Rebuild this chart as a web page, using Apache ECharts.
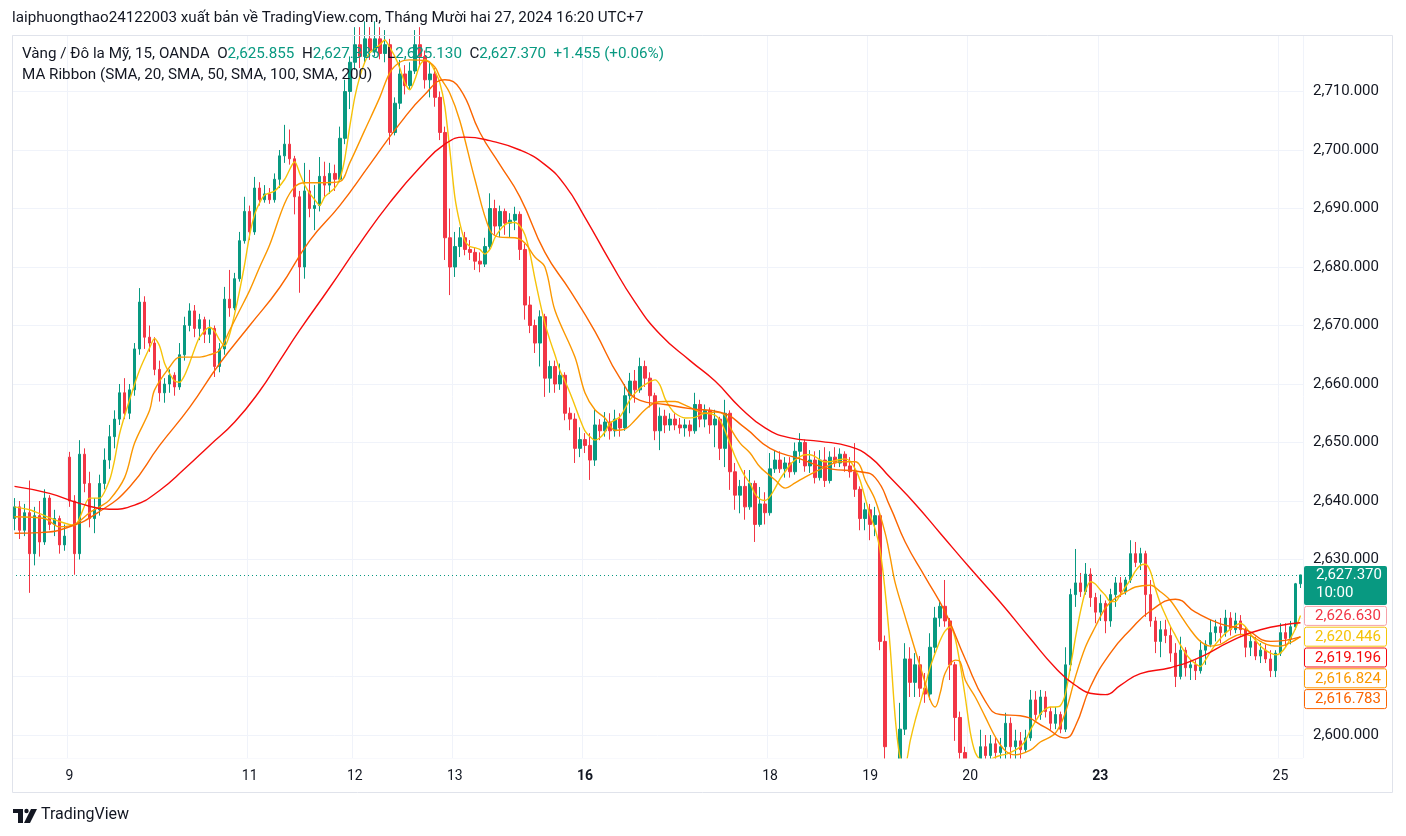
<!DOCTYPE html>
<html><head><meta charset="utf-8">
<script src="https://cdn.jsdelivr.net/npm/echarts@6.0.0/dist/echarts.min.js"></script>
<style>html,body{margin:0;padding:0;background:#fff}#c{width:1406px;height:836px}</style>
</head><body><div id="c"></div>
<script>
// ---- tick labels (day labels on time axis, their candle index) ----
const dayLabels = ['9','11','12','13','16','18','19','20','23','25'];
const dayLabelIdx = [11,47,68,88,114,151,171,191,217,253];
const boldDays = ['16','23'];

// ---- candles (aggregated bars) ----
const openP = [
2637,2639,2635,2638,2631,2637.5,2633,2640.5,2636,2637,
2632.5,2647.5,2640,2631,2648,2643,2637,2638.5,2643,2647,
2651,2654,2658.5,2655,2659,2666,2674,2668,2667,2662.5,
2658.5,2660,2661.5,2659.5,2665,2670,2672.5,2669.5,2671,2668.5,
2669.5,2663,2666,2674.5,2673,2678,2684.5,2689.5,2686,2693.5,
2691.5,2692.5,2691.5,2695,2699,2701,2698.5,2692,2680,2693,
2690,2690.5,2695.5,2694,2696,2695,2702,2710,2715,2718,
2716,2719,2717,2719,2716.5,2718,2703,2708,2713,2711,
2713.5,2718,2716,2712,2713,2709,2703,2685,2680,2683.5,
2685,2683,2682.5,2681,2680.5,2683.5,2690,2687,2689.5,2687.5,
2688,2689,2683,2673.5,2670,2667,2671.5,2661,2663,2660,
2661.5,2655,2654,2649,2650.5,2649.5,2647,2653,2652,2653.5,
2652,2654,2652.5,2658,2660.5,2659,2663,2661,2658,2652,
2654.5,2653,2654,2653,2652.5,2653,2652,2656.5,2654,2655.5,
2653,2654,2649,2655,2645,2641,2642.5,2639,2643,2636,
2639.5,2638,2645.5,2647,2645.5,2646.5,2645,2648.5,2650,2646,
2647,2644,2647,2643.5,2647.5,2646.5,2648,2646,2645,2642,
2637,2638.5,2636,2637.5,2616,2594,2590,2592,2601,2613,
2609,2612,2608,2607,2615,2620,2622,2619.5,2612,2603,
2597,2593,2594,2592,2598,2596.5,2598.5,2597,2598,2602,
2598,2599,2597.5,2599.5,2606,2603.5,2606.5,2604,2602,2603.5,
2601,2612,2624,2626,2624.5,2627.5,2623.5,2621,2622.5,2619.5,
2624,2626,2624.5,2626.5,2631,2629.5,2631,2624,2619.5,2616,
2618,2617,2614,2610,2614.5,2611.5,2612,2611,2614.5,2615.5,
2617.5,2618.5,2617.5,2620,2618,2619.5,2618,2615,2616,2613.5,
2614.5,2613,2611,2614,2617.5,2616.5,2618.5,2625.855];
const closeP = [
2639,2635,2638,2631,2637.5,2633,2640.5,2636,2637,2632.5,
2634,2640,2631,2648,2643,2637,2638.5,2643,2647,2651,
2654,2658.5,2655,2659,2666,2674,2668,2667,2662.5,2658.5,
2660,2661.5,2659.5,2665,2670,2672.5,2669.5,2671,2668.5,2669.5,
2663,2666,2674.5,2673,2678,2684.5,2689.5,2686,2693.5,2691.5,
2692.5,2691.5,2695,2699,2701,2698.5,2692,2680,2693,2690,
2690.5,2695.5,2694,2696,2695,2702,2710,2715,2718,2716,
2719,2717,2719,2716.5,2718,2703,2708,2713,2711,2713.5,
2718,2716,2712,2713,2709,2703,2685,2680,2683.5,2685,
2683,2682.5,2681,2680.5,2683.5,2690,2687,2689.5,2687.5,2688,
2689,2683,2673.5,2670,2667,2671.5,2661,2663,2660,2661.5,
2655,2654,2649,2650.5,2649.5,2647,2653,2652,2653.5,2652,
2654,2652.5,2658,2660.5,2659,2663,2661,2658,2652,2654.5,
2653,2654,2653,2652.5,2653,2652,2656.5,2654,2655.5,2653,
2654,2649,2655,2645,2641,2642.5,2639,2643,2636,2639.5,
2638,2645.5,2647,2645.5,2646.5,2645,2648.5,2650,2646,2647,
2644,2647,2643.5,2647.5,2646.5,2648,2646,2645,2642,2637,
2638.5,2636,2637.5,2616,2598,2590,2592,2601,2613,2609,
2612,2608,2607,2615,2620,2622,2619.5,2612,2603,2597,
2593,2594,2592,2598,2596.5,2598.5,2597,2598,2602,2598,
2599,2597.5,2599.5,2606,2603.5,2606.5,2604,2602,2603.5,2601,
2612,2624,2626,2624.5,2627.5,2623.5,2621,2622.5,2619.5,2624,
2626,2624.5,2626.5,2631,2629.5,2631,2624,2619.5,2616,2618,
2617,2614,2610,2614.5,2611.5,2612,2611,2614.5,2615.5,2617.5,
2618.5,2617.5,2620,2618,2619.5,2618,2615,2616,2613.5,2614.5,
2613,2611,2614,2617.5,2616.5,2618.5,2625.855,2627.37];
const lowP = [
2635,2633.5,2634,2624.3,2629,2630.5,2632.5,2635,2634,2631,
2631.5,2639,2627.4,2630,2641.5,2635.5,2634.5,2637.5,2642,2645.5,
2649,2653,2654,2654,2658,2665,2666,2665.5,2661.5,2657,
2656.8,2658.5,2658,2659,2664,2669,2668,2667.5,2667,2667,
2661.2,2662,2665,2671.5,2672.6,2677.5,2684,2684.6,2685.5,2690.5,
2691,2690.8,2691,2693.5,2697.8,2697.5,2689,2675.6,2678,2688.5,
2686.3,2689.5,2692,2692.5,2693,2694.5,2701,2707,2713.7,2714,
2715,2715.4,2716,2715.5,2715,2700.9,2702.5,2707,2709.5,2710.3,
2713,2714.2,2710.5,2709,2707.4,2701.7,2681.2,2675.2,2678.3,2681.7,
2682,2681.2,2679.5,2679.1,2680,2683,2685.5,2685.1,2685.5,2685.1,
2686.3,2681.2,2671,2668.7,2665.3,2663,2657.8,2658.5,2658.5,2659,
2653.8,2652.1,2646.5,2647.5,2648.2,2643.6,2646,2650.4,2651,2650.5,
2651,2651,2652,2655,2656.8,2658.5,2659.5,2656,2650.4,2648.7,
2651.6,2652,2652.1,2651.5,2651,2651,2651.5,2652.6,2652.6,2651.5,
2649.2,2647,2645.8,2641.9,2638.5,2637.9,2636.8,2638.5,2633,2635.6,
2636,2637.5,2644.8,2644.8,2644,2644,2644.5,2646.5,2645,2644.8,
2643,2643.5,2642.4,2643,2645.8,2645.8,2645,2644,2640.7,2635,
2635,2633.3,2634,2614.5,2590,2587,2588,2591,2600,2606.5,
2606.5,2606.5,2605.5,2606,2614,2618.5,2618.5,2609.4,2599,2592,
2590,2589,2588,2590,2594,2594,2594,2594,2595,2595,
2595,2595,2597,2599,2602.6,2602.6,2603,2600.9,2601,2600.3,
2600.5,2611,2621.9,2623.6,2624,2621.9,2619.1,2619.5,2617.4,2618.5,
2621.9,2623.6,2624,2626,2628.7,2628.2,2620.2,2618.5,2614,2613.3,
2615.7,2612.5,2608.2,2609.5,2610,2609.4,2609.4,2610.5,2612,2615,
2616,2615.7,2616.8,2617,2617.4,2617,2613.3,2613.5,2612.8,2612.3,
2612.3,2609.9,2609.9,2613.5,2615,2615.5,2618,2625.13];
const highP = [
2640.5,2640,2639.5,2643.5,2639,2640,2642,2641,2638.5,2637.5,
2636,2648.4,2641,2650.4,2649,2645,2640.5,2644.5,2649,2653,
2655.5,2660,2661,2660,2667,2676.4,2675,2670,2668,2664,
2661,2662.5,2662,2667,2671.5,2673.8,2673.5,2672,2671.5,2671,
2670,2667,2676.6,2679.5,2679,2686,2692,2690.5,2695.4,2694.5,
2694,2693.5,2696,2700,2704.3,2703.5,2699,2693,2697.8,2696.6,
2694,2698.8,2698,2697.8,2697.5,2704,2712,2716,2721,2721,
2722,2721,2722,2721,2720.5,2719,2709,2715.4,2714.5,2715,
2720.5,2721,2717,2715,2714,2710,2704,2690,2686,2686.8,
2686,2684.6,2683.4,2682.5,2685,2692.6,2691.5,2690.5,2690,2689.2,
2690.3,2689.5,2684,2675,2671,2672.6,2672,2664,2664,2663.5,
2662,2656,2655,2652.6,2651.6,2651.6,2655.6,2654,2655.2,2655,
2655.6,2655,2660,2661.9,2662.4,2664.5,2664,2662,2658.5,2656,
2655.6,2655,2655,2654.2,2654,2653.8,2658.5,2657.3,2656.5,2656,
2655.6,2654.4,2657.3,2655.5,2646.5,2643.6,2645.3,2645.3,2643.5,2642.4,
2641.5,2648.2,2648.7,2648.5,2647.5,2647.5,2650,2651.6,2650.5,2648.7,
2648.5,2648.7,2649.2,2648.5,2649.2,2649,2648.5,2647.5,2649.9,2642.5,
2639.7,2639.5,2639,2638,2617,2595,2595,2605.5,2615.7,2615,
2614,2613.5,2610.6,2617.4,2621.9,2623,2626.5,2620,2612.5,2604,
2598,2595.5,2595.5,2600.9,2600,2600,2599.7,2599.5,2603.8,2603,
2600.9,2600.5,2600.9,2607.7,2607.5,2607.7,2607.5,2604.8,2604.8,2604,
2615,2625,2631.8,2627.7,2629.4,2628.5,2624.3,2624,2623,2625,
2627,2627,2627,2633.3,2633,2632,2631.5,2626.5,2620.2,2619.5,
2619.7,2618.5,2615.7,2616.8,2615,2613,2612.8,2616.2,2616.2,2619.7,
2619.7,2620,2621.4,2621,2620.9,2620.5,2618.5,2617.5,2616.8,2615.7,
2615.5,2614.5,2614.5,2619.1,2619.1,2619.5,2626,2627.385];

// ---- moving averages: [candle index, value] ----
const sma20 = [[0,2639],[3,2638.5],[6,2637.5],[9,2636.5],[12,2635.8],[15,2640.5],[17,2640.5],[19,2643.6],[20,2647],[21,2651.5],[23,2657.3],[25,2662.4],[27,2666.2],[28,2667.8],[29,2666.5],[30,2663.5],[31,2661.8],[32,2660.5],[33,2660.3],[34,2661.5],[35,2663.6],[36,2666],[37,2668],[39,2669.7],[40,2669],[41,2667.5],[42,2666.5],[43,2668.5],[44,2672],[45,2676],[46,2680.5],[47,2685.5],[48,2689],[49,2691],[50,2692.3],[52,2693],[54,2695],[56,2698],[57,2696],[58,2694],[59,2692.6],[60,2691.5],[61,2690.5],[62,2692],[64,2693.5],[65,2695],[66,2698.5],[67,2704],[68,2709],[69,2712.5],[70,2715],[71,2716.6],[73,2718],[74,2718.8],[75,2717.5],[76,2716],[77,2714],[78,2711.5],[79,2710.3],[80,2712],[81,2714.5],[82,2715.4],[83,2715],[84,2713.5],[85,2711.5],[86,2707.4],[87,2700],[88,2692],[89,2687.5],[90,2684.5],[91,2683.5],[92,2683.3],[93,2683],[94,2682.2],[95,2683],[96,2685],[97,2686.3],[98,2687.2],[99,2687.6],[100,2687.6],[101,2687],[102,2685.5],[103,2682.4],[104,2678],[105,2674],[106,2670.4],[107,2667.5],[108,2665],[109,2662.3],[110,2660.5],[111,2658.5],[112,2656.3],[113,2654],[114,2652],[115,2651],[116,2650.4],[117,2650.8],[118,2651.8],[119,2653.3],[121,2654.4],[123,2657.3],[125,2659.3],[127,2660.4],[128,2660.7],[129,2659.8],[130,2657.5],[131,2656],[132,2655],[134,2654.2],[136,2654.3],[138,2655],[140,2654.7],[141,2653.8],[142,2652],[143,2649.8],[144,2647.6],[145,2645.8],[146,2644.2],[147,2643],[148,2641.2],[149,2640.3],[150,2640.1],[151,2640.8],[152,2642.2],[153,2643.8],[154,2645],[155,2646.2],[156,2647],[157,2647.6],[158,2647.9],[159,2647.9],[160,2647.6],[161,2647],[162,2646.7],[163,2646.7],[164,2646.9],[165,2647.1],[166,2647.2],[167,2646.8],[168,2645.5],[169,2643.5],[170,2640.5],[171,2637.5],[172,2635.2],[173,2631.5],[174,2624.5],[175,2615],[176,2603],[177,2596],[178,2595],[179,2599],[180,2602.5],[181,2605.5],[182,2608.5],[183,2611.6],[184,2614],[185,2616.2],[186,2617.8],[187,2618.5],[188,2616.5],[189,2612],[190,2606.5],[191,2600.5],[192,2597],[193,2595.8],[194,2595.5],[195,2595.8],[196,2596.2],[197,2596.5],[198,2596.7],[199,2597],[200,2597.4],[201,2598],[202,2599],[203,2600.8],[204,2602.3],[205,2603.6],[206,2604.4],[207,2604.8],[208,2604.8],[209,2605],[210,2607],[211,2611.5],[212,2616.5],[213,2621],[214,2624.5],[215,2626.2],[216,2625.8],[217,2624.8],[218,2623.9],[219,2622.8],[220,2622.8],[221,2624],[222,2625.3],[223,2626.5],[224,2628],[225,2629],[226,2629.2],[227,2628],[228,2625],[229,2622.5],[230,2620.5],[231,2618.6],[232,2617],[233,2615.4],[234,2614],[235,2612.9],[236,2612.2],[237,2611.7],[238,2612.8],[239,2614.2],[240,2615.5],[241,2616.5],[242,2617.4],[243,2618.1],[244,2618.7],[245,2619.1],[246,2618.5],[247,2617.3],[248,2616.2],[249,2615.2],[250,2614.5],[251,2614],[252,2613.7],[253,2614],[254,2615],[255,2616.5],[256,2618.2],[257,2620.446]];
const sma50 = [[0,2637.3],[6,2637],[9,2635.6],[12,2636],[15,2638],[17,2639],[19,2640.2],[22,2644],[24,2649.9],[27,2655.5],[28,2659],[31,2662.9],[33,2664.6],[37,2664.6],[39,2665],[41,2665.8],[43,2669.2],[45,2672.6],[47,2676],[49,2680],[51,2683.8],[54,2690.9],[56,2693.7],[58,2694.4],[61,2694.4],[65,2694.6],[67,2697.8],[70,2703.4],[73,2709],[75,2713.2],[77,2715],[79,2715.4],[82,2715.3],[84,2714.2],[85,2712.5],[87,2709.7],[89,2705],[92,2695],[95,2686.3],[97,2685.1],[100,2685],[102,2684.1],[104,2681.7],[106,2680],[108,2672.6],[112,2664.6],[114,2658.5],[116,2655.6],[118,2654.2],[120,2652.1],[122,2652.3],[124,2653.8],[126,2655.6],[128,2656.8],[130,2657],[132,2657],[134,2656.4],[136,2655.6],[138,2655],[140,2655.2],[142,2654.6],[143,2652.6],[145,2649.9],[147,2648.2],[149,2645.8],[152,2643.6],[154,2642.2],[156,2643.1],[158,2644.1],[160,2645],[162,2645.8],[165,2646.7],[168,2646.7],[169,2646],[170,2643.6],[172,2640.2],[174,2634.5],[175,2630.4],[176,2626],[178,2620.2],[180,2614.5],[182,2608.9],[183,2606],[184,2604.8],[185,2607.2],[186,2610.6],[188,2612.8],[189,2612.5],[190,2609.4],[192,2606.5],[194,2603.1],[196,2599.7],[198,2597.3],[200,2596.6],[203,2597.4],[205,2598.8],[208,2600.3],[210,2603.8],[212,2609.9],[214,2615],[216,2618.5],[218,2621.7],[220,2623.4],[222,2624.4],[224,2625.3],[227,2625.6],[229,2624.5],[231,2623],[233,2620.5],[235,2618],[237,2616],[239,2615.2],[241,2615.5],[243,2616.5],[245,2617.2],[247,2617],[249,2616],[251,2615.3],[253,2615.2],[255,2615.8],[257,2616.824]];
const sma100 = [[0,2634.5],[5,2634.6],[11,2635.6],[17,2638.2],[23,2642.4],[29,2649.5],[35,2656],[41,2663.5],[47,2670],[53,2676.5],[59,2684.5],[65,2690.5],[71,2697.5],[77,2704.5],[82,2709.5],[86,2712],[89,2710.5],[93,2703],[97,2697.5],[101,2692],[106,2682.5],[111,2676],[116,2669],[121,2661],[125,2657.2],[130,2656.5],[135,2655.8],[141,2655.2],[146,2652.5],[151,2649],[157,2647.2],[163,2645.5],[169,2645],[172,2644],[175,2639],[178,2633],[182,2627],[186,2621],[190,2613],[194,2605.8],[197,2603.5],[201,2603.3],[206,2601.3],[210,2599.5],[212,2601.5],[215,2608.2],[219,2614],[223,2618],[227,2621.2],[232,2623.2],[236,2621],[241,2619],[246,2618],[251,2616],[257,2616.783]];
const sma200 = [[0,2642.5],[7,2641.3],[13,2639.6],[19,2638.6],[24,2639.3],[29,2641.8],[34,2645.5],[39,2649.5],[44,2653.5],[49,2658.8],[53,2664],[57,2669.2],[63,2676.5],[69,2684],[75,2691],[81,2697],[86,2701],[90,2702.2],[95,2701.6],[101,2700],[106,2697.5],[110,2694],[114,2688.5],[119,2681],[124,2674],[129,2668.5],[135,2664],[140,2660.5],[145,2656],[150,2652.5],[155,2650.8],[161,2650.2],[167,2649.3],[171,2647.5],[175,2644],[180,2639.5],[185,2634.5],[191,2628.5],[197,2622.7],[203,2616.5],[208,2611.5],[212,2608.5],[216,2607],[218,2606.9],[221,2608.5],[225,2610.5],[231,2611.5],[237,2613.3],[243,2616],[249,2618],[257,2619.196]];

// ---- right-side tags ----
const lastClose = 2627.37;
const tagValues = [2626.630, 2620.446, 2619.196, 2616.824, 2616.783];
const tagColors = ['#f23645', '#f6c309', '#f60c0c', '#fb9800', '#fb6500'];
const tagBorders = ['#f7a1a8', '#f6c309', '#f60c0c', '#fb9800', '#fb6500'];
const countdown = '10:00';

const FONT = 'Roboto, "Noto Sans", sans-serif';
const UP = '#089981', DOWN = '#f23645', TXT = '#131722';
const fmt = v => v.toLocaleString('en-US', {minimumFractionDigits: 3, maximumFractionDigits: 3});

const N = closeP.length;
const cats = [];
for (let i = 0; i < N; i++) { const k = dayLabelIdx.indexOf(i); cats.push(k >= 0 ? dayLabels[k] : ' ' + i); }
const candleData = openP.map((o, i) => [o, closeP[i], lowP[i], highP[i]]);

function maSeries(name, data, color, sm) {
  return { name, type: 'line', data, showSymbol: false, symbol: 'none', smooth: sm,
    lineStyle: { color, width: 1.4 }, z: 5, silent: true, clip: true };
}

const chart = echarts.init(document.getElementById('c'));
chart.setOption({
  animation: false,
  backgroundColor: '#ffffff',
  grid: { left: 12, right: 103, top: 35, bottom: 78 },
  xAxis: [{
    type: 'category', data: cats, boundaryGap: true,
    axisLine: { show: false }, axisTick: { show: false }, axisLabel: { show: false },
    splitLine: { show: true, interval: (i) => dayLabelIdx.includes(i), lineStyle: { color: '#f0f3fa', width: 1 } }
  }, {
    type: 'category', data: cats, boundaryGap: true, position: 'bottom', z: 10,
    axisLine: { show: false }, axisTick: { show: false }, splitLine: { show: false },
    axisLabel: {
      interval: (i) => dayLabelIdx.includes(i), margin: 11, color: TXT, fontSize: 14, fontFamily: FONT,
      formatter: (v) => boldDays.includes(v) ? '{b|' + v + '}' : v,
      rich: { b: { fontWeight: 'bold', fontSize: 14, color: TXT, fontFamily: FONT } }
    }
  }],
  yAxis: {
    type: 'value', position: 'right', scale: true, min: 2596.07, max: 2719.66, minInterval: 10, maxInterval: 10,
    axisLine: { show: false }, axisTick: { show: false },
    axisLabel: { showMinLabel: false, showMaxLabel: false, margin: 10, color: TXT, fontSize: 15, fontFamily: FONT, formatter: fmt },
    splitLine: { lineStyle: { color: '#f0f3fa', width: 1 } }
  },
  series: [
    { type: 'candlestick', data: candleData, barWidth: 3, clip: true, z: 2,
      itemStyle: { color: UP, color0: DOWN, borderColor: UP, borderColor0: DOWN, borderWidth: 1 },
      markLine: { symbol: 'none', silent: true, label: { show: false }, animation: false,
        lineStyle: { color: UP, type: [1, 3], width: 1 }, data: [{ yAxis: lastClose }] } },
    maSeries('SMA 20', sma20, '#f6c309', 0.25),
    maSeries('SMA 50', sma50, '#fb9800', 0.35),
    maSeries('SMA 100', sma100, '#fb6500', 0.5),
    maSeries('SMA 200', sma200, '#f60c0c', 0.5)
  ]
});

const yPix = chart.convertToPixel({ yAxisIndex: 0 }, lastClose);
const g = [];
// time-axis strip hides candle parts below the price pane
g.push({ type: 'rect', shape: { x: 13, y: 758.5, width: 1379, height: 62 }, style: { fill: '#ffffff' }, z: 6, silent: true });
// outer panel frame
g.push({ type: 'rect', shape: { x: 12.5, y: 35.5, width: 1380, height: 757 }, style: { fill: 'none', stroke: '#e0e3eb', lineWidth: 1 }, z: 50, silent: true });
// title
g.push({ type: 'text', left: 12, top: 11, z: 60, style: { text: 'laiphuongthao24122003 xuất bản về TradingView.com, Tháng Mười hai 27, 2024 16:20 UTC+7', fill: TXT, font: '15.2px ' + FONT } });
// legend
g.push({ type: 'text', left: 22, top: 47, z: 60, style: {
  text: '{d|Vàng / Đô la Mỹ, 15, OANDA}  {d|O}{g|2,625.855}  {d|H}{g|2,627.385}  {d|L}{g|2,625.130}  {d|C}{g|2,627.370}  {g|+1.455 (+0.06%)}',
  font: '15.2px ' + FONT,
  rich: { d: { fill: TXT, font: '15.2px ' + FONT }, g: { fill: UP, font: '15.2px ' + FONT } } } });
g.push({ type: 'text', left: 22, top: 68, z: 60, style: { text: 'MA Ribbon (SMA, 20, SMA, 50, SMA, 100, SMA, 200)', fill: TXT, font: '15.2px ' + FONT } });
// current price tag
g.push({ type: 'rect', shape: { x: 1304, y: yPix - 9, width: 83, height: 39, r: 2 }, style: { fill: UP }, z: 70 });
g.push({ type: 'text', x: 1316, y: yPix, z: 71, style: { text: fmt(lastClose), fill: '#ffffff', font: '15px ' + FONT, textVerticalAlign: 'middle', verticalAlign: 'middle' } });
g.push({ type: 'text', x: 1316, y: yPix + 18, z: 71, style: { text: countdown, fill: '#ffffff', font: '15px ' + FONT, textVerticalAlign: 'middle', verticalAlign: 'middle' } });
// MA / line tags stacked under the price tag
let ty = yPix + 31;
tagValues.forEach((v, k) => {
  g.push({ type: 'rect', shape: { x: 1304.5, y: ty + 0.5, width: 82, height: 19, r: 2 }, style: { fill: '#ffffff', stroke: tagBorders[k], lineWidth: 1 }, z: 70 });
  g.push({ type: 'text', x: 1315, y: ty + 10.5, z: 71, style: { text: fmt(v), fill: tagColors[k], font: '15px ' + FONT, textVerticalAlign: 'middle', verticalAlign: 'middle' } });
  ty += 20.8;
});
// TradingView logo (bottom-left)
g.push({ type: 'polygon', shape: { points: [[13,809],[23,809],[23,823],[18,823],[18,813],[13,813]] }, style: { fill: TXT }, z: 60 });
g.push({ type: 'circle', shape: { cx: 26.5, cy: 811, r: 2.2 }, style: { fill: TXT }, z: 60 });
g.push({ type: 'polygon', shape: { points: [[31,809],[37,809],[30,823],[24,823]] }, style: { fill: TXT }, z: 60 });
g.push({ type: 'text', left: 41, top: 807, z: 60, style: { text: 'TradingView', fill: TXT, font: '16px ' + FONT } });

chart.setOption({ graphic: g });
</script>
</body></html>
